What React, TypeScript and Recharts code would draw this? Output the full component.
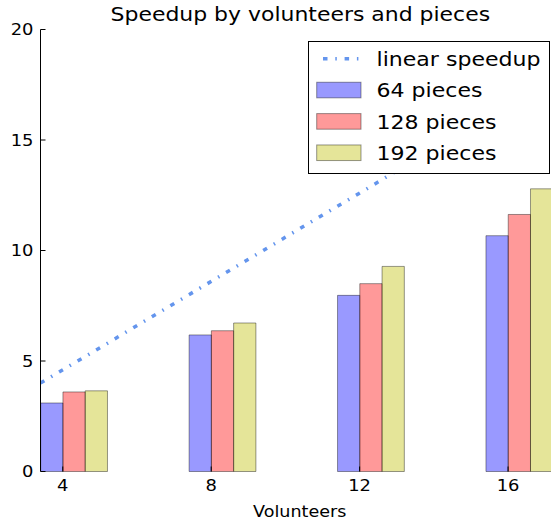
import React from "react";
import { ComposedChart, Bar, Line, XAxis, YAxis } from "recharts";

const VOLUNTEERS = [4, 8, 12, 16];
const PIECES_64 = [3.1, 6.18, 7.97, 10.67];
const PIECES_128 = [3.6, 6.37, 8.5, 11.63];
const PIECES_192 = [3.65, 6.72, 9.28, 12.79];
const LINEAR_SPEEDUP = [4, 8, 12, 16];
const Y_TICKS = [0, 5, 10, 15, 20];

const TITLE = "Speedup by volunteers and pieces";
const X_LABEL = "Volunteers";
const LINE_NAME = "linear speedup";
const BAR_NAMES = ["64 pieces", "128 pieces", "192 pieces"];
const BAR_KEYS = ["p64", "p128", "p192"];
const BAR_COLORS = ["#0000ff", "#ff0000", "#bfbf00"];

const data = VOLUNTEERS.map((v, i) => ({
  v,
  p64: PIECES_64[i],
  p128: PIECES_128[i],
  p192: PIECES_192[i],
  linear: LINEAR_SPEEDUP[i],
}));

// layout (pixels)
const W = 580;
const H = 521;
const LEFT = 40.5;
const TOP = 29.5;
const BOTTOM = 471.5;
const RIGHT = 560;
const BAR_W = ((RIGHT - LEFT) / 14) * 0.6;
const FONT = "DejaVu Sans";
const SX = 1.12;
const DASH = "4.5 7.8 1.5 7.8";

const YTick = (props: any) => {
  const { y, payload } = props;
  return (
    <g>
      <line x1={LEFT} x2={LEFT + 5} y1={y} y2={y} stroke="#000" />
      <text
        transform={`translate(${LEFT - 7},${y + 5.8}) scale(${SX},1)`}
        textAnchor="end"
        fontSize={16}
        fontFamily={FONT}
        fill="#000"
      >
        {payload.value}
      </text>
    </g>
  );
};

const XTick = (props: any) => {
  const { x, payload } = props;
  return (
    <g>
      <line x1={x} x2={x} y1={BOTTOM} y2={BOTTOM - 5} stroke="#000" />
      <text
        transform={`translate(${x},${491.3}) scale(${SX},1)`}
        textAnchor="middle"
        fontSize={16}
        fontFamily={FONT}
        fill="#000"
      >
        {payload.value}
      </text>
    </g>
  );
};

const TopTick = (props: any) => {
  const { x } = props;
  return <line x1={x} x2={x} y1={TOP} y2={TOP + 5} stroke="#000" />;
};

function Overlay() {
  const rowY = (i: number) => 58.7 + 31.35 * i;
  return (
    <svg
      width={551}
      height={521}
      style={{ position: "absolute", left: 0, top: 0, pointerEvents: "none", overflow: "visible" }}
    >
      <text
        transform={`translate(300.3,21.3) scale(${SX},1)`}
        textAnchor="middle"
        fontSize={19.6}
        fontFamily={FONT}
        fill="#000"
      >
        {TITLE}
      </text>
      <text
        transform={`translate(299.7,516.5) scale(${SX},1)`}
        textAnchor="middle"
        fontSize={15.7}
        fontFamily={FONT}
        fill="#000"
      >
        {X_LABEL}
      </text>
      <rect x={308.5} y={41.5} width={241} height={132} fill="#fff" stroke="#000" />
      <line
        x1={316.7}
        x2={361}
        y1={rowY(0)}
        y2={rowY(0)}
        stroke="#6495ed"
        strokeWidth={3.5}
        strokeDasharray={DASH}
        strokeDashoffset={15.3}
      />
      <text
        transform={`translate(376.5,${rowY(0) + 7.4}) scale(${SX},1)`}
        fontSize={19.7}
        fontFamily={FONT}
        fill="#000"
      >
        {LINE_NAME}
      </text>
      {BAR_NAMES.map((name, i) => (
        <g key={name}>
          <rect
            x={316.7}
            y={rowY(i + 1) - 7.8}
            width={44.3}
            height={15.6}
            fill={BAR_COLORS[i]}
            fillOpacity={0.4}
            stroke="#000"
            strokeOpacity={0.4}
          />
          <text
            transform={`translate(376.5,${rowY(i + 1) + 7.4}) scale(${SX},1)`}
            fontSize={19.7}
            fontFamily={FONT}
            fill="#000"
          >
            {name}
          </text>
        </g>
      ))}
    </svg>
  );
}

export default function App() {
  return (
    <div
      style={{
        position: "absolute",
        left: 0,
        top: 0,
        width: 551,
        height: 521,
        overflow: "hidden",
        background: "#fff",
      }}
    >
      <ComposedChart
        width={W}
        height={H}
        data={data}
        margin={{ top: TOP, left: LEFT - 40, right: W - RIGHT, bottom: H - BOTTOM - 30 }}
        barGap={0}
      >
        <XAxis
          xAxisId="bars"
          dataKey="v"
          type="number"
          domain={[3.1, 17.1]}
          allowDataOverflow
          hide
        />
        <XAxis
          xAxisId="line"
          dataKey="v"
          type="number"
          domain={[4, 18]}
          allowDataOverflow
          hide
        />
        <XAxis
          xAxisId="ticks"
          dataKey="v"
          type="number"
          domain={[3.4, 17.4]}
          allowDataOverflow
          ticks={VOLUNTEERS}
          interval={0}
          height={30}
          tickSize={0}
          tickLine={false}
          axisLine={{ stroke: "#000" }}
          tick={XTick}
        />
        <XAxis
          xAxisId="top"
          orientation="top"
          dataKey="v"
          type="number"
          domain={[3.4, 17.4]}
          allowDataOverflow
          ticks={VOLUNTEERS}
          interval={0}
          height={0}
          tickSize={0}
          tickLine={false}
          axisLine={{ stroke: "#000" }}
          tick={TopTick}
        />
        <YAxis
          type="number"
          domain={[0, 20]}
          ticks={Y_TICKS}
          interval={0}
          width={40}
          tickSize={0}
          tickLine={false}
          axisLine={{ stroke: "#000" }}
          tick={YTick}
        />
        {BAR_KEYS.map((k, i) => (
          <Bar
            key={k}
            xAxisId="bars"
            dataKey={k}
            name={BAR_NAMES[i]}
            barSize={BAR_W}
            fill={BAR_COLORS[i]}
            fillOpacity={0.4}
            stroke="#000"
            strokeOpacity={0.4}
            isAnimationActive={false}
          />
        ))}
        <Line
          xAxisId="line"
          dataKey="linear"
          name={LINE_NAME}
          stroke="#6495ed"
          strokeWidth={3.5}
          strokeDasharray={DASH}
          dot={false}
          activeDot={false}
          isAnimationActive={false}
        />
      </ComposedChart>
      <Overlay />
    </div>
  );
}
